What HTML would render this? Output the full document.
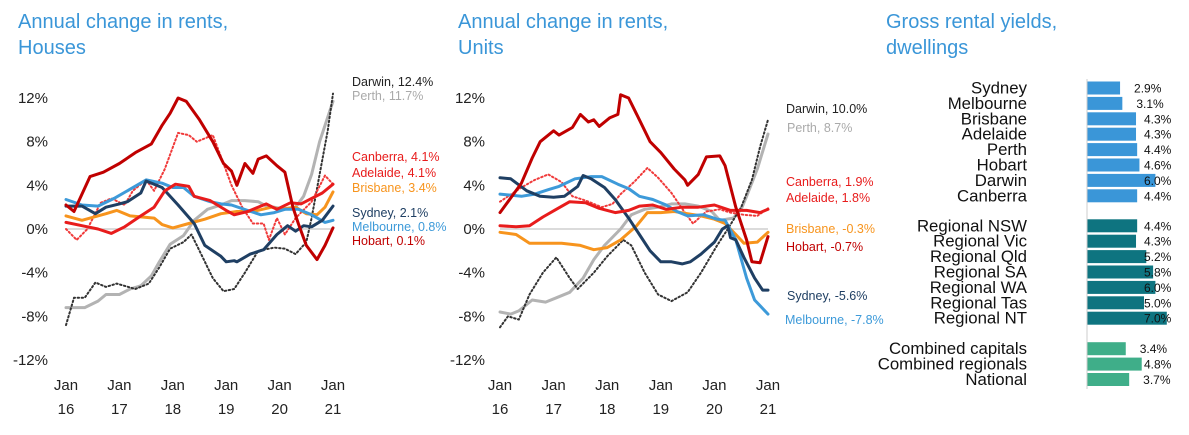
<!DOCTYPE html>
<html><head><meta charset="utf-8"><style>
body{margin:0;background:#fff;width:1189px;height:435px;overflow:hidden;font-family:"Liberation Sans",sans-serif}
svg{display:block}
</style></head><body>
<svg id="s" width="1189" height="435" xmlns="http://www.w3.org/2000/svg">
<g font-family="Liberation Sans, sans-serif" fill="#3a96d8" font-size="20">
<text x="18" y="28">Annual change in rents,</text>
<text x="18" y="54">Houses</text>
<text x="458" y="28">Annual change in rents,</text>
<text x="458" y="54">Units</text>
<text x="886" y="28">Gross rental yields,</text>
<text x="886" y="54">dwellings</text>
</g>
</svg>
<script>
const yTicks=[12,8,4,0,-4,-8,-12];
const xYears=['16','17','18','19','20','21'];
// Houses series [year offset from Jan16, %]
const hHobart=[[0,2.2],[0.15,1.6],[0.45,4.8],[0.7,5.2],[1,6],[1.3,7],[1.6,7.8],[1.8,9.5],[1.95,10.6],[2.1,12],[2.25,11.7],[2.5,10],[2.75,8],[2.95,6],[3.1,5.3],[3.2,4],[3.35,6],[3.5,5.1],[3.6,6.4],[3.75,6.7],[3.95,5.8],[4.1,5.2],[4.25,2],[4.35,0.5],[4.5,-1.5],[4.7,-2.8],[4.85,-1.5],[5,0.1]];
const hCanberra=[[0,0],[0.2,-1],[0.4,0],[0.65,2.4],[0.85,2.8],[1.1,2.2],[1.25,3.5],[1.5,4.5],[1.65,3.5],[1.85,5.5],[2.1,8.8],[2.3,8.6],[2.45,8],[2.75,8.6],[2.95,6],[3.1,4],[3.3,2],[3.5,0.5],[3.7,0.5],[3.8,-1],[3.95,1],[4.1,-0.5],[4.3,1],[4.6,2.5],[4.85,4.9],[5,4.1]];
const hAdelaide=[[0,0.6],[0.3,0.3],[0.6,0],[0.85,-0.4],[1.1,0.2],[1.4,1.2],[1.65,2],[1.85,3.5],[2.05,4.1],[2.3,3.9],[2.4,3],[2.7,2.6],[3,1.7],[3.15,1.3],[3.4,1.6],[3.75,2.3],[3.95,1.8],[4.2,2.4],[4.4,2.3],[4.6,2.8],[4.8,3.3],[5,4.1]];
const hBrisbane=[[0,1.2],[0.3,0.8],[0.75,1.4],[0.95,1.7],[1.2,1.2],[1.65,1],[1.8,0.4],[2,0.1],[2.3,0.5],[2.6,0.9],[2.9,1.4],[3.2,1.6],[3.5,1.6],[3.85,2],[4,1.8],[4.3,2],[4.5,1.4],[4.7,1.3],[4.85,2],[5,3.4]];
const hSydney=[[0,2.1],[0.3,2.1],[0.55,1.4],[0.75,2],[1,2.3],[1.15,2.5],[1.4,3.3],[1.5,4.4],[1.8,3.8],[2.1,2.2],[2.4,0.5],[2.6,-1.5],[2.9,-2.5],[3,-3],[3.15,-2.9],[3.2,-3],[3.45,-2.3],[3.7,-1.9],[3.95,-0.5],[4.15,0.3],[4.3,-0.2],[4.45,0.3],[4.6,0.2],[4.8,0.8],[5,2.1]];
const hMelbourne=[[0,2.7],[0.3,2.2],[0.6,2.1],[0.9,2.8],[1.15,3.5],[1.5,4.5],[1.8,4.2],[2,3.8],[2.2,3.8],[2.4,3],[2.7,2.5],[2.9,2.3],[3.1,2.2],[3.4,1.7],[3.65,1.3],[3.9,1.5],[4.1,1.8],[4.35,1.8],[4.6,1.3],[4.85,0.6],[5,0.8]];
const hPerth=[[0,-7.2],[0.35,-7.2],[0.6,-6.6],[0.75,-6],[1,-6],[1.2,-5.5],[1.4,-5.2],[1.6,-4.3],[1.75,-3],[1.95,-1.4],[2.2,-0.6],[2.4,0.8],[2.65,1.8],[2.9,2.2],[3.1,2.6],[3.35,2.6],[3.6,2.5],[3.75,2.1],[3.9,2],[4.1,1.8],[4.3,2],[4.45,3],[4.6,5],[4.75,8],[5,11.7]];
const hDarwin=[[0,-8.8],[0.15,-6.3],[0.35,-6.3],[0.55,-4.9],[0.75,-5.3],[0.95,-5],[1.3,-5.5],[1.55,-5],[1.75,-3.5],[1.95,-1.8],[2.2,-1.2],[2.35,-0.5],[2.55,-2.5],[2.75,-4.5],[2.95,-5.7],[3.15,-5.5],[3.35,-4],[3.6,-2],[3.9,-1.7],[4.1,-1.8],[4.3,-2.3],[4.5,-1.2],[4.6,1],[4.75,5],[4.9,9],[5,12.4]];
// Units series
const uHobart=[[0,1.5],[0.15,2.5],[0.4,4.2],[0.6,6.5],[0.75,8],[1,9],[1.1,8.6],[1.35,9.3],[1.5,10.5],[1.65,9.8],[1.75,10],[1.85,9.4],[2.05,10.2],[2.2,10.5],[2.25,12.3],[2.4,12],[2.6,10],[2.8,8],[3,7],[3.25,5.5],[3.45,4.5],[3.5,4],[3.7,5],[3.85,6.6],[4.1,6.7],[4.2,5.8],[4.4,2],[4.6,-1],[4.7,-3],[4.85,-3.1],[5,-0.7]];
const uCanberra=[[0,2.5],[0.4,3.8],[0.65,4.5],[0.9,5],[1.15,4.3],[1.35,3],[1.6,2.6],[1.9,2],[2.1,2.3],[2.25,3.2],[2.5,4.3],[2.75,5.6],[2.95,4.7],[3.2,3.3],[3.45,1.5],[3.6,0.5],[3.85,1.6],[4.1,1.8],[4.3,1.5],[4.55,1.3],[4.8,1.2],[5,1.9]];
const uAdelaide=[[0,0.3],[0.3,0.2],[0.55,0.3],[0.8,1.1],[1.05,1.8],[1.3,2.5],[1.6,2.4],[1.85,1.9],[2.15,1.5],[2.4,1.7],[2.6,2.1],[2.85,2.2],[3.1,1.8],[3.4,2],[3.7,2],[4,2.2],[4.3,1.7],[4.6,1.7],[4.85,1.5],[5,1.8]];
const uBrisbane=[[0,-0.3],[0.3,-0.5],[0.55,-1.3],[0.85,-1.3],[1.15,-1.3],[1.5,-1.5],[1.75,-1.9],[2,-1.7],[2.25,-1],[2.55,0.3],[2.75,1.5],[3,1.5],[3.25,1.6],[3.5,1.4],[3.75,1.2],[4,0.9],[4.2,0.5],[4.4,-0.5],[4.55,-1.3],[4.8,-1.2],[5,-0.3]];
const uSydney=[[0,4.7],[0.2,4.6],[0.5,3.5],[0.75,3],[1,2.9],[1.2,3],[1.45,3.9],[1.55,4.9],[1.7,4.6],[1.95,3.8],[2.15,2.7],[2.4,1],[2.6,-0.5],[2.8,-2],[3,-3],[3.2,-3],[3.4,-3.2],[3.55,-3],[3.75,-2.3],[4,-1.2],[4.15,0],[4.25,0.3],[4.3,-0.8],[4.4,-1],[4.55,-2.6],[4.75,-4.5],[4.9,-5.6],[5,-5.6]];
const uMelbourne=[[0,3.2],[0.4,3],[0.65,3.2],[0.9,3.6],[1.1,3.9],[1.4,4.6],[1.7,4.8],[1.9,4.8],[2.2,4.1],[2.4,3.7],[2.6,3],[2.85,2.7],[3.1,2.2],[3.3,1.6],[3.5,1.2],[3.8,1.3],[4.05,0.9],[4.2,0.8],[4.4,-1],[4.6,-4.5],[4.75,-6.5],[5,-7.8]];
const uPerth=[[0,-7.6],[0.2,-7.8],[0.35,-7.5],[0.6,-6.5],[0.85,-6.7],[1.05,-6.3],[1.3,-5.8],[1.55,-4.5],[1.75,-2.8],[1.95,-1.5],[2.25,0],[2.45,1.3],[2.7,1.8],[2.95,2],[3.2,2.3],[3.45,2.3],[3.7,2.1],[3.95,1.6],[4.1,0.8],[4.35,1],[4.5,1.8],[4.6,3],[4.8,5.5],[5,8.7]];
const uDarwin=[[0,-9],[0.15,-8],[0.35,-8.3],[0.55,-6],[0.8,-4],[1.05,-2.6],[1.3,-4.5],[1.45,-5.5],[1.75,-4],[2,-2.5],[2.3,-1],[2.45,-1.5],[2.7,-4],[2.95,-6],[3.2,-6.6],[3.5,-5.8],[3.75,-4],[4.05,-1.5],[4.25,0],[4.5,2],[4.7,4.5],[4.85,7.5],[5,10]];
// Yields
const yieldCats=['Sydney','Melbourne','Brisbane','Adelaide','Perth','Hobart','Darwin','Canberra','Regional NSW','Regional Vic','Regional Qld','Regional SA','Regional WA','Regional Tas','Regional NT','Combined capitals','Combined regionals','National'];
const yieldVals=[2.9,3.1,4.3,4.3,4.4,4.6,6.0,4.4,4.4,4.3,5.2,5.8,6.0,5.0,7.0,3.4,4.8,3.7];
const yieldGroup=[0,0,0,0,0,0,0,0,1,1,1,1,1,1,1,2,2,2];

const NS='http://www.w3.org/2000/svg';
const svg=document.getElementById('s');
function mk(tag,attrs,parent){const e=document.createElementNS(NS,tag);for(const k in attrs)e.setAttribute(k,attrs[k]);(parent||svg).appendChild(e);return e;}

function lineChart(key,x0,x1,tickRight,series,labels){
  const g=mk('g',{});
  
  
  const xs=t=>x0+(x1-x0)*t/5;
  const ys=v=>229-v*(131/12);
  yTicks.forEach(v=>{const t=mk('text',{x:tickRight,y:ys(v)+5,'text-anchor':'end','font-size':15,fill:'#222'},g);t.textContent=v+'%';
    
    });
  xYears.forEach((yr,i)=>{const cx=xs(i);
    const a=mk('text',{x:cx,y:390,'text-anchor':'middle','font-size':15,fill:'#222'},g);a.textContent='Jan';
    
    
    const b=mk('text',{x:cx,y:414,'text-anchor':'middle','font-size':15,fill:'#222'},g);b.textContent=yr;
    
    });
  const z=mk('line',{x1:x0,x2:x1,y1:ys(0),y2:ys(0),stroke:'#cfcfcf','stroke-width':1.5},g);
  
  
  series.forEach(s=>{
    const p=mk('path',{d:s.d.map((q,i)=>(i?'L':'M')+xs(q[0]).toFixed(1)+','+ys(q[1]).toFixed(1)).join(''),fill:'none',stroke:s.c,'stroke-width':s.dot?2:3,'stroke-dasharray':s.dot?'1.5,2.5':'none','stroke-linejoin':'round','stroke-linecap':'round'},g);
    
    
  });
  labels.forEach(l=>{const t=mk('text',{x:l[0],y:l[1],'font-size':12.5,fill:l[3]},g);t.textContent=l[2];
    
    });
}
const C={hob:'#c00000',ade:'#e81c1c',can:'#f03a3a',bri:'#f7941d',syd:'#1f3f63',mel:'#3d9ad9',per:'#b3b3b3',dar:'#333'};
lineChart('houses',66,333,48,[
 {n:'perth-line',d:hPerth,c:C.per},{n:'darwin-line',d:hDarwin,c:C.dar,dot:1},{n:'canberra-line',d:hCanberra,c:C.can,dot:1},
 {n:'brisbane-line',d:hBrisbane,c:C.bri},{n:'melbourne-line',d:hMelbourne,c:C.mel},{n:'sydney-line',d:hSydney,c:C.syd},
 {n:'adelaide-line',d:hAdelaide,c:C.ade},{n:'hobart-line',d:hHobart,c:C.hob}],
 [[352,86,'Darwin, 12.4%','#222'],[352,100,'Perth, 11.7%','#aaa'],[352,161,'Canberra, 4.1%',C.ade],[352,177,'Adelaide, 4.1%',C.ade],[352,192,'Brisbane, 3.4%',C.bri],[352,217,'Sydney, 2.1%',C.syd],[352,231,'Melbourne, 0.8%',C.mel],[352,245,'Hobart, 0.1%',C.hob]]);
lineChart('units',500,768,485,[
 {n:'perth-line',d:uPerth,c:C.per},{n:'darwin-line',d:uDarwin,c:C.dar,dot:1},{n:'canberra-line',d:uCanberra,c:C.can,dot:1},
 {n:'brisbane-line',d:uBrisbane,c:C.bri},{n:'melbourne-line',d:uMelbourne,c:C.mel},{n:'sydney-line',d:uSydney,c:C.syd},
 {n:'adelaide-line',d:uAdelaide,c:C.ade},{n:'hobart-line',d:uHobart,c:C.hob}],
 [[786,113,'Darwin, 10.0%','#222'],[787,132,'Perth, 8.7%','#aaa'],[786,186,'Canberra, 1.9%',C.ade],[786,202,'Adelaide, 1.8%',C.ade],[786,233,'Brisbane, -0.3%',C.bri],[786,251,'Hobart, -0.7%',C.hob],[787,300,'Sydney, -5.6%',C.syd],[785,324,'Melbourne, -7.8%',C.mel]]);

// bar chart
(function(){
  const g=mk('g',{});
  
  
  const ax=1087, xs=v=>ax+v*11.4;
  const rowY=i=>{const grp=yieldGroup[i];return 88+i*15.4+grp*14.6+(grp>1?0.5:0);};
  const cols=['#3a96d8','#0e7480','#3fae89'];
  yieldCats.forEach((c,i)=>{
    const y=rowY(i);
    const r=mk('rect',{x:ax,y:y-6.5,width:xs(yieldVals[i])-ax,height:13,fill:cols[yieldGroup[i]]},g);
    
    
    const t=mk('text',{x:1027,y:y+5.5,'text-anchor':'end','font-size':16.8,fill:'#111'},g);t.textContent=c;
    
    
    const v=mk('text',{x:Math.min(xs(yieldVals[i])+14,1144),y:y+4.5,'font-size':12,fill:'#111'},g);v.textContent=yieldVals[i].toFixed(1)+'%';
    
    
  });
  const a=mk('line',{x1:ax,x2:ax,y1:79,y2:389,stroke:'#ccc','stroke-width':1},g);
  
  
})();
</script>
</body></html>
